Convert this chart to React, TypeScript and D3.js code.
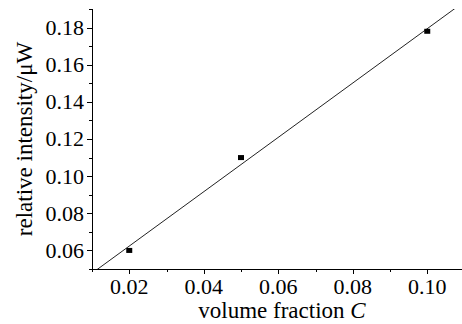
import * as d3 from "d3";

const width = 462;
const height = 324;

// measured points
const fractions = [0.02, 0.05, 0.1];
const intensities = [0.06, 0.11, 0.178];

const xTicks = [0.02, 0.04, 0.06, 0.08, 0.1];
const xMinor = [0.01, 0.03, 0.05, 0.07, 0.09, 0.11];
const yTicks = [0.06, 0.08, 0.1, 0.12, 0.14, 0.16, 0.18];
const yMinor = [0.05, 0.07, 0.09, 0.11, 0.13, 0.15, 0.17, 0.19];

const margin = { top: 9, right: -2.5, bottom: 55, left: 92 };

const x = d3
  .scaleLinear()
  .domain([0.01, 0.11])
  .range([margin.left, width - margin.right]);

const y = d3
  .scaleLinear()
  .domain([0.05, 0.19])
  .range([height - margin.bottom, margin.top]);

const font = "'Liberation Serif', 'Times New Roman', serif";

const App = () => {
  // least squares fit through the points
  const mx = d3.mean(fractions)!;
  const my = d3.mean(intensities)!;
  const sxy = d3.sum(fractions, (f, i) => (f - mx) * (intensities[i] - my));
  const sxx = d3.sum(fractions, (f) => (f - mx) ** 2);
  const slope = sxy / sxx;
  const intercept = my - slope * mx;
  const fitX = [0.01, 0.11];
  const line = d3
    .line<number>()
    .x((d) => x(d))
    .y((d) => y(slope * d + intercept));

  const x0 = x.range()[0];
  const y0 = y.range()[0];
  const y1 = y.range()[1];

  return (
    <svg
      width={width}
      height={height}
      style={{ position: "absolute", left: 0, top: 0, background: "white" }}
      fontFamily={font}
    >
      <defs>
        <clipPath id="plot">
          <rect x={x0} y={y1} width={width - x0} height={y0 - y1} />
        </clipPath>
      </defs>

      <path
        d={line(fitX)!}
        fill="none"
        stroke="#222"
        strokeWidth={1}
        clipPath="url(#plot)"
      />

      {fractions.map((f, i) => (
        <rect
          key={f}
          x={x(f) - 3}
          y={y(intensities[i]) - 2.5}
          width={6}
          height={5}
          fill="#000"
        />
      ))}

      {/* y axis */}
      <g stroke="#000" strokeWidth={1}>
        <line x1={x0 + 0.5} x2={x0 + 0.5} y1={y1} y2={y0} />
        {yTicks.map((t) => (
          <line key={t} x1={x0 - 5} x2={x0} y1={Math.round(y(t)) + 0.5} y2={Math.round(y(t)) + 0.5} />
        ))}
        {yMinor.map((t) => (
          <line key={t} x1={x0 - 3} x2={x0} y1={Math.round(y(t)) + 0.5} y2={Math.round(y(t)) + 0.5} />
        ))}
      </g>
      {yTicks.map((t) => (
        <text
          key={t}
          x={x0 - 8}
          y={y(t)}
          dy="0.34em"
          textAnchor="end"
          fontSize={22}
          fill="#000"
        >
          {t.toFixed(2)}
        </text>
      ))}

      {/* x axis */}
      <g stroke="#000" strokeWidth={1}>
        <line x1={x0} x2={width} y1={y0 + 0.5} y2={y0 + 0.5} />
        {xTicks.map((t) => (
          <line key={t} x1={Math.round(x(t)) + 0.5} x2={Math.round(x(t)) + 0.5} y1={y0} y2={y0 + 5} />
        ))}
        {xMinor.map((t) => (
          <line key={t} x1={Math.round(x(t)) + 0.5} x2={Math.round(x(t)) + 0.5} y1={y0} y2={y0 + 3} />
        ))}
      </g>
      {xTicks.map((t) => (
        <text key={t} x={x(t)} y={294} textAnchor="middle" fontSize={22} fill="#000">
          {t.toFixed(2)}
        </text>
      ))}

      <text x={282} y={318} textAnchor="middle" fontSize={23} fill="#000">
        volume fraction <tspan fontStyle="italic">C</tspan>
      </text>
      <text
        transform={`translate(32,${(y0 + y1) / 2}) rotate(-90)`}
        textAnchor="middle"
        fontSize={23}
        fill="#000"
      >
        relative intensity/μW
      </text>
    </svg>
  );
};

export default App;
